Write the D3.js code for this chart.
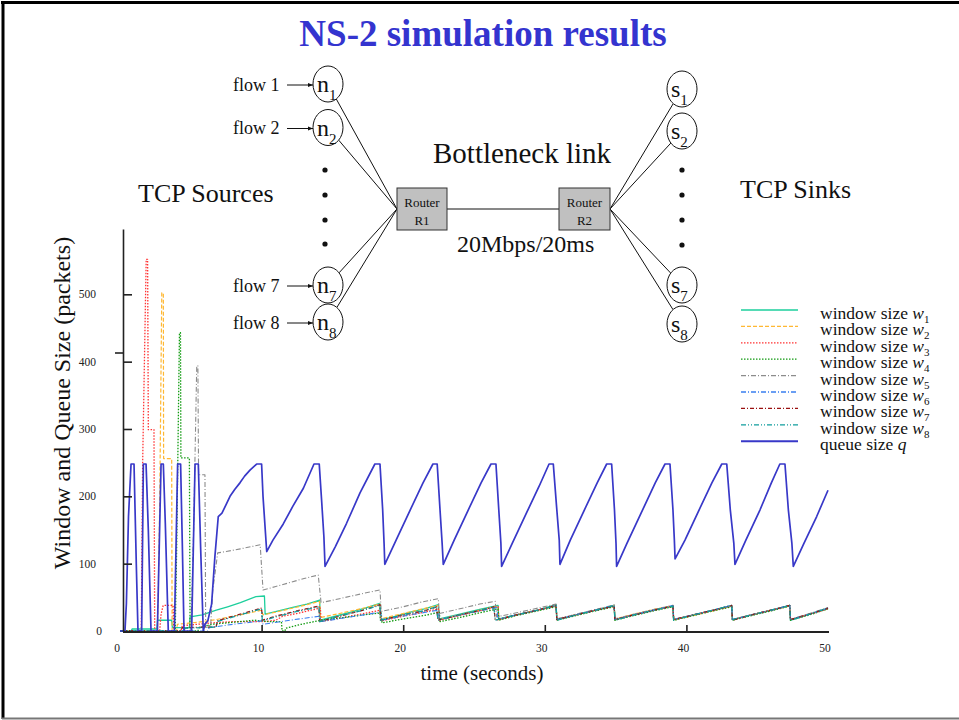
<!DOCTYPE html>
<html><head><meta charset="utf-8">
<script src="https://cdn.jsdelivr.net/npm/d3@7"></script>
<style>body{margin:0;background:#fff}svg{display:block}text{font-family:"Liberation Serif","Times New Roman",serif}</style>
</head><body><svg id="c" width="959" height="720"></svg>
<script>
// ---------- data ----------
const xTicks = [0, 10, 20, 30, 40, 50];
const yTicks = [0, 100, 200, 300, 400, 500];
const legendLabels = ["1","2","3","4","5","6","7","8","q"];
const sourceLabels = ["1","2","7","8"];
const sinkLabels = ["1","2","7","8"];

const w1 = [[0,0],[0.8,0],[0.85,3],[2.1,3],[2.6,3],[2.65,16],[3.65,16],[3.7,5],[4.9,5],[4.95,21],[5.8,24],[6.8,31],[7.6,36],[8.5,42],[9.6,51],[10.2,52],[10.25,25],[11.2,30],[12.2,35],[13.2,40],[14.1,46],[14.15,16],[15.2,22],[16.3,28],[17.3,34],[18.35,41],[18.4,16],[19.5,22],[20.5,28],[21.5,33],[22.48,39],[22.55,18],[24,25],[25.4,32],[26.7,38],[26.75,18],[28,24],[29.5,31],[30.8,39],[30.85,17],[32.2,24],[33.6,31],[34.9,38],[34.95,17],[36.3,24],[37.7,31],[39.05,37],[39.1,17],[40.5,24],[41.9,31],[43.2,38],[43.25,17],[44.6,24],[46,31],[47.3,38],[47.35,16],[48.7,25],[50,34]];
const w2 = [[0,0],[2.65,0],[2.8,180],[2.95,502],[3.06,502],[3.08,256],[3.65,256],[3.68,0],[4.0,0],[4.05,10],[5.5,13],[6.8,17],[8.0,22],[9.0,26],[10.0,31],[10.1,24],[11,28],[12,33],[13,38],[14.1,44],[14.15,20],[15.5,26],[17,33],[18.35,40],[18.4,18],[19.8,25],[21.2,32],[22.48,38],[22.55,17],[24,24],[25.4,31],[26.7,37],[26.75,17],[28,24],[29.5,31],[30.8,38],[30.85,17],[32.2,24],[33.6,31],[34.9,38],[34.95,18],[36.3,25],[37.7,32],[39.05,38],[39.1,16],[40.5,23],[41.9,30],[43.2,37],[43.25,17],[44.6,24],[46,31],[47.3,37],[47.35,17],[48.7,25],[50,33]];
const w3 = [[0,0],[1.5,0],[1.6,250],[1.85,552],[1.95,552],[2.0,299],[2.4,299],[2.45,0],[2.8,0],[2.9,25],[3.05,38],[3.75,38],[3.8,0],[4.3,0],[4.4,8],[5.5,10],[6.5,12],[8.0,14],[10.2,14],[11.0,16],[11.5,22],[12.5,26],[13.5,31],[14.15,34],[14.2,14],[15.5,19],[17,25],[18.4,31],[18.45,15],[20,22],[21.5,28],[22.5,33],[22.55,16],[24,23],[25.4,30],[26.7,36],[26.75,17],[28,24],[29.5,31],[30.8,37],[30.85,17],[32.2,24],[33.6,31],[34.9,37],[34.95,17],[36.3,24],[37.7,31],[39.05,37],[39.1,17],[40.5,24],[41.9,31],[43.2,37],[43.25,17],[44.6,24],[46,31],[47.3,38],[47.35,17],[48.7,25],[50,33]];
const w4 = [[0,0],[3.9,0],[4.0,120],[4.2,443],[4.27,443],[4.3,257],[4.9,257],[4.95,0],[5.5,0],[5.6,5],[6.5,10],[8.0,13],[9.5,16],[10.5,14],[11.4,14],[11.45,0],[11.65,0],[11.7,4],[12.8,10],[14.2,16],[15.8,20],[17.2,24],[18.45,27],[18.5,12],[20,18],[21.5,23],[22.55,28],[22.6,14],[24,20],[25.4,27],[26.7,33],[26.75,16],[28,23],[29.5,30],[30.8,36],[30.85,16],[32.2,23],[33.6,30],[34.9,36],[34.95,16],[36.3,23],[37.7,30],[39.05,36],[39.1,16],[40.5,23],[41.9,30],[43.2,36],[43.25,16],[44.6,23],[46,30],[47.3,37],[47.35,16],[48.7,24],[50,33]];
const w5 = [[0,0],[5.0,0],[5.2,150],[5.42,394],[5.5,394],[5.55,232],[6.0,232],[6.05,8],[6.4,8],[6.55,60],[6.9,116],[7.5,118],[8.5,122],[9.9,128],[10.1,61],[11,66],[12,72],[13,78],[14.0,83],[14.2,42],[15.5,48],[17,55],[18.36,61],[18.45,29],[20,36],[21.3,43],[22.48,48],[22.55,26],[24,33],[25.4,40],[26.5,44],[26.6,21],[28,27],[29.5,34],[30.8,40],[30.85,18],[32.2,25],[33.6,32],[34.9,39],[34.95,18],[36.3,25],[37.7,32],[39.05,38],[39.1,17],[40.5,24],[41.9,31],[43.2,38],[43.25,17],[44.6,24],[46,31],[47.3,38],[47.35,17],[48.7,26],[50,35]];
const w6 = [[0,0],[6.2,0],[6.3,5],[8,10],[10.0,15],[10.1,10],[12,16],[14.1,22],[14.2,14],[16,20],[18.4,28],[18.5,16],[20.5,24],[22.5,31],[22.55,17],[24.5,26],[26.6,35],[26.7,17],[28,24],[29.5,31],[30.8,38],[30.85,17],[32.2,24],[33.6,31],[34.9,38],[34.95,17],[36.3,24],[37.7,31],[39.05,38],[39.1,17],[40.5,24],[41.9,31],[43.2,38],[43.25,17],[44.6,24],[46,31],[47.3,38],[47.35,17],[48.7,25],[50,34]];
const w7 = [[0,0],[4.3,0],[4.4,5],[6.8,6],[6.85,15],[8,22],[9,28],[10.0,34],[10.05,16],[11,22],[12.5,30],[14.05,37],[14.1,14],[15.5,22],[17,30],[18.36,39],[18.4,16],[20,24],[21.5,30],[22.36,36],[22.45,16],[24,24],[25.5,31],[26.4,36],[26.5,16],[28,24],[29.5,31],[30.8,38],[30.85,17],[32.2,24],[33.6,31],[34.9,37],[34.95,17],[36.3,24],[37.7,31],[39.05,37],[39.1,17],[40.5,24],[41.9,31],[43.2,38],[43.25,16],[44.6,24],[46,31],[47.3,38],[47.35,17],[48.7,25],[50,34]];
const w8 = [[0,0],[4.5,0],[4.6,4],[6.8,6],[6.85,14],[8,21],[9,27],[10.0,33],[10.05,15],[11,21],[12.5,29],[14.05,36],[14.1,14],[15.5,22],[17,30],[18.36,38],[18.4,16],[20,24],[21.5,30],[22.36,36],[22.45,16],[24,24],[25.5,31],[26.4,36],[26.5,16],[28,24],[29.5,31],[30.8,38],[30.85,16],[32.2,24],[33.6,31],[34.9,38],[34.95,16],[36.3,24],[37.7,31],[39.05,37],[39.1,16],[40.5,24],[41.9,31],[43.2,38],[43.25,17],[44.6,24],[46,31],[47.3,38],[47.35,16],[48.7,25],[50,34]];
const q = [[0,0],[0.35,0],[0.45,40],[0.6,170],[0.78,248],[0.99,248],[1.15,100],[1.27,0],[1.53,0],[1.65,248],[1.84,248],[2.0,150],[2.19,0],[2.64,0],[2.9,248],[3.06,248],[3.2,160],[3.41,0],[3.84,0],[4.07,248],[4.28,248],[4.4,130],[4.52,0],[5.06,0],[5.3,248],[5.53,248],[5.7,120],[5.88,0],[6.0,10],[6.2,15],[6.47,40],[6.7,110],[6.94,170],[7.2,175],[7.5,188],[7.77,200],[8.1,210],[8.47,220],[8.8,230],[9.18,239],[9.65,248],[10.0,248],[10.1,200],[10.36,118],[10.8,135],[11.53,159],[12.2,185],[12.95,212],[13.7,248],[14.07,248],[14.25,190],[14.4,140],[14.48,96],[15.2,125],[16.0,160],[16.95,205],[18.0,248],[18.36,248],[18.55,180],[18.65,130],[18.7,99],[19.5,135],[20.5,180],[21.4,220],[22.1,248],[22.4,248],[22.6,180],[22.75,130],[22.83,99],[23.6,135],[24.6,180],[25.5,220],[26.2,248],[26.55,248],[26.75,180],[26.9,130],[26.95,96],[27.7,130],[28.7,175],[29.6,215],[30.3,248],[30.6,248],[30.83,185],[31.02,135],[31.07,99],[31.8,135],[32.8,180],[33.7,220],[34.37,248],[34.72,248],[34.92,180],[35.03,130],[35.07,96],[35.8,130],[36.8,175],[37.8,220],[38.49,248],[38.84,248],[39.05,180],[39.15,135],[39.2,107],[39.9,135],[40.9,180],[41.8,220],[42.5,248],[42.85,248],[43.1,180],[43.35,130],[43.43,99],[44.2,135],[45.2,180],[46.0,220],[46.6,248],[46.96,248],[47.2,180],[47.45,130],[47.55,96],[48.3,130],[49.2,170],[50.0,209]];

// ---------- styles ----------
const seriesList = [w1,w2,w3,w4,w5,w6,w7,w8,q];
const colors = ["#1ccf9c","#ffb833","#ff3333","#109a10","#8c8c8c","#3a7ff0","#9a1010","#119d9d","#3838c8"];
const dashes = [null,"4,2","1.5,1.5","1.5,1.5","5,2,1,2","5,2,1,2","4,2,1,2","5,2,1,2,1,2",null];
const widths = [1.3,1.2,1.3,1.3,1.1,1.1,1.3,1.3,1.7];

const svg = d3.select("#c");

// frame
svg.append("line").attr("x1",3).attr("x2",3).attr("y1",1).attr("y2",719).attr("stroke","#000").attr("stroke-width",3);
svg.append("line").attr("x1",1).attr("x2",959).attr("y1",2.5).attr("y2",2.5).attr("stroke","#000").attr("stroke-width",3);
svg.append("line").attr("x1",2).attr("x2",959).attr("y1",718.5).attr("y2",718.5).attr("stroke","#777").attr("stroke-width",2);

// title
svg.append("text").attr("x",483).attr("y",46).attr("text-anchor","middle")
  .attr("font-size",37).attr("font-weight","bold").attr("fill","#3434cf").text("NS-2 simulation results");

// ---------- chart ----------
const x = d3.scaleLinear().domain([0,50]).range([120,828]);
const y = d3.scaleLinear().domain([0,597]).range([631,229]);

const line = d3.line().x(d=>x(d[0])).y(d=>y(d[1]));
seriesList.forEach((s,i)=>{
  svg.append("path").datum(s).attr("d",line).attr("fill","none")
    .attr("stroke",colors[i]).attr("stroke-width",widths[i])
    .attr("stroke-dasharray",dashes[i]).attr("stroke-linejoin","round");
});

// axes
const yAxis = d3.axisLeft(y).tickValues(yTicks.filter(d=>d>0)).tickSize(-9).tickSizeOuter(0).tickFormat("");
const gy = svg.append("g").attr("transform","translate(123,0)").call(yAxis);
gy.select(".domain").attr("stroke","#222").attr("stroke-width",1.6);
gy.selectAll(".tick line").attr("stroke","#222").attr("stroke-width",1.6);
const xAxis = d3.axisBottom(x).tickValues(xTicks.filter(d=>d>0&&d<50)).tickSize(-7).tickSizeOuter(0).tickFormat("");
const gx = svg.append("g").attr("transform","translate(0,632)").call(xAxis);
gx.select(".domain").attr("stroke","#222").attr("stroke-width",1.8).attr("d","M123,0H829");
gx.selectAll(".tick line").attr("stroke","#222").attr("stroke-width",1.6);
svg.append("line").attr("x1",115).attr("x2",123).attr("y1",353).attr("y2",353).attr("stroke","#222").attr("stroke-width",1.6);

svg.append("g").selectAll("text").data(yTicks).join("text")
  .attr("x",d=>d===0?99:96).attr("y",d=>y(d)+4)
  .attr("text-anchor",d=>d===0?"middle":"end")
  .attr("font-size",11.5).attr("fill","#222").text(d=>d);
svg.append("g").selectAll("text").data(xTicks).join("text")
  .attr("x",d=>x(d)-3).attr("y",652).attr("text-anchor","middle")
  .attr("font-size",11.5).attr("fill","#222").text(d=>d);

svg.append("text").attr("x",482).attr("y",680).attr("text-anchor","middle")
  .attr("font-size",21).attr("fill","#111").text("time (seconds)");
svg.append("text").attr("transform","translate(70,403) rotate(-90)").attr("text-anchor","middle")
  .attr("font-size",24).attr("fill","#111").text("Window and Queue Size (packets)");

// legend
const lg = svg.append("g");
legendLabels.forEach((lab,i)=>{
  const ly = 310 + i*16.4;
  lg.append("line").attr("x1",741).attr("x2",798).attr("y1",ly).attr("y2",ly)
    .attr("stroke",colors[i]).attr("stroke-width",i===8?2:1.3).attr("stroke-dasharray",dashes[i]);
  const t = lg.append("text").attr("x",820).attr("y",ly+9).attr("font-size",17.5).attr("fill","#111");
  if (lab==="q") {
    t.append("tspan").text("queue size ");
    t.append("tspan").attr("font-style","italic").text("q");
  } else {
    t.append("tspan").text("window size ");
    t.append("tspan").attr("font-style","italic").text("w");
    t.append("tspan").attr("font-size",11).attr("dy",4).text(lab);
  }
});

// ---------- network diagram ----------
const dg = svg.append("g");
const nodeRx = 15, nodeRy = 18;
const srcX = 328, srcY = [84,127.5,285,322];
const sinkX = 682, sinkY = [89,131,285,324];
const r1 = {x:397,y:188,w:50,h:42}, r2 = {x:559,y:188,w:51,h:42};
const r1p = [r1.x, r1.y+21], r2p = [r2.x+r2.w, r2.y+21];

function edgePoint(cx,cy,tx,ty){
  const dx=(tx-cx)/nodeRx, dy=(ty-cy)/nodeRy, L=Math.hypot(dx,dy);
  return [cx+nodeRx*dx/L, cy+nodeRy*dy/L];
}
srcY.forEach(cy=>{
  const p = edgePoint(srcX,cy,r1p[0],r1p[1]);
  dg.append("line").attr("x1",p[0]).attr("y1",p[1]).attr("x2",r1p[0]).attr("y2",r1p[1]).attr("stroke","#111").attr("stroke-width",1);
});
sinkY.forEach(cy=>{
  const p = edgePoint(sinkX,cy,r2p[0],r2p[1]);
  dg.append("line").attr("x1",p[0]).attr("y1",p[1]).attr("x2",r2p[0]).attr("y2",r2p[1]).attr("stroke","#111").attr("stroke-width",1);
});
dg.append("line").attr("x1",r1.x+r1.w).attr("x2",r2.x).attr("y1",209).attr("y2",209).attr("stroke","#111").attr("stroke-width",1);

[r1,r2].forEach((r,i)=>{
  dg.append("rect").attr("x",r.x).attr("y",r.y).attr("width",r.w).attr("height",r.h)
    .attr("fill","#c0c0c0").attr("stroke","#333").attr("stroke-width",1);
  dg.append("text").attr("x",r.x+r.w/2).attr("y",r.y+19).attr("text-anchor","middle").attr("font-size",13).attr("fill","#111").text("Router");
  dg.append("text").attr("x",r.x+r.w/2).attr("y",r.y+37).attr("text-anchor","middle").attr("font-size",13).attr("fill","#111").text(i===0?"R1":"R2");
});

function node(cx,cy,letter,sub){
  dg.append("ellipse").attr("cx",cx).attr("cy",cy).attr("rx",nodeRx).attr("ry",nodeRy)
    .attr("fill","#fff").attr("stroke","#111").attr("stroke-width",1);
  const t = dg.append("text").attr("x",cx-11).attr("y",cy+8).attr("font-size",24).attr("fill","#111");
  t.append("tspan").text(letter);
  t.append("tspan").attr("font-size",15).attr("dy",8).text(sub);
}
srcY.forEach((cy,i)=>node(srcX,cy,"n",sourceLabels[i]));
sinkY.forEach((cy,i)=>node(sinkX,cy,"s",sinkLabels[i]));

// flow labels + arrows
dg.append("defs").append("marker").attr("id","ah").attr("viewBox","0 0 10 10").attr("refX",10).attr("refY",5)
  .attr("markerWidth",5).attr("markerHeight",5).attr("orient","auto")
  .append("path").attr("d","M0,1L10,5L0,9Z").attr("fill","#111");
srcY.forEach((cy,i)=>{
  dg.append("text").attr("x",233).attr("y",cy+6.5).attr("font-size",18).attr("fill","#111").text("flow "+sourceLabels[i]);
  dg.append("line").attr("x1",287).attr("x2",313).attr("y1",cy+1).attr("y2",cy+1).attr("stroke","#111").attr("stroke-width",1).attr("marker-end","url(#ah)");
});
// dots
[[325,[170,195,220,244]],[682,[170,195,220,245]]].forEach(([cx,ys])=>{
  ys.forEach(cy=>dg.append("circle").attr("cx",cx).attr("cy",cy).attr("r",2.6).attr("fill","#111"));
});

dg.append("text").attr("x",138).attr("y",202).attr("font-size",26).attr("fill","#111").text("TCP Sources");
dg.append("text").attr("x",740).attr("y",198).attr("font-size",26).attr("fill","#111").text("TCP Sinks");
dg.append("text").attr("x",433).attr("y",163).attr("font-size",29).attr("fill","#111").text("Bottleneck link");
dg.append("text").attr("x",457).attr("y",252).attr("font-size",24).attr("fill","#111").text("20Mbps/20ms");
</script></body></html>
